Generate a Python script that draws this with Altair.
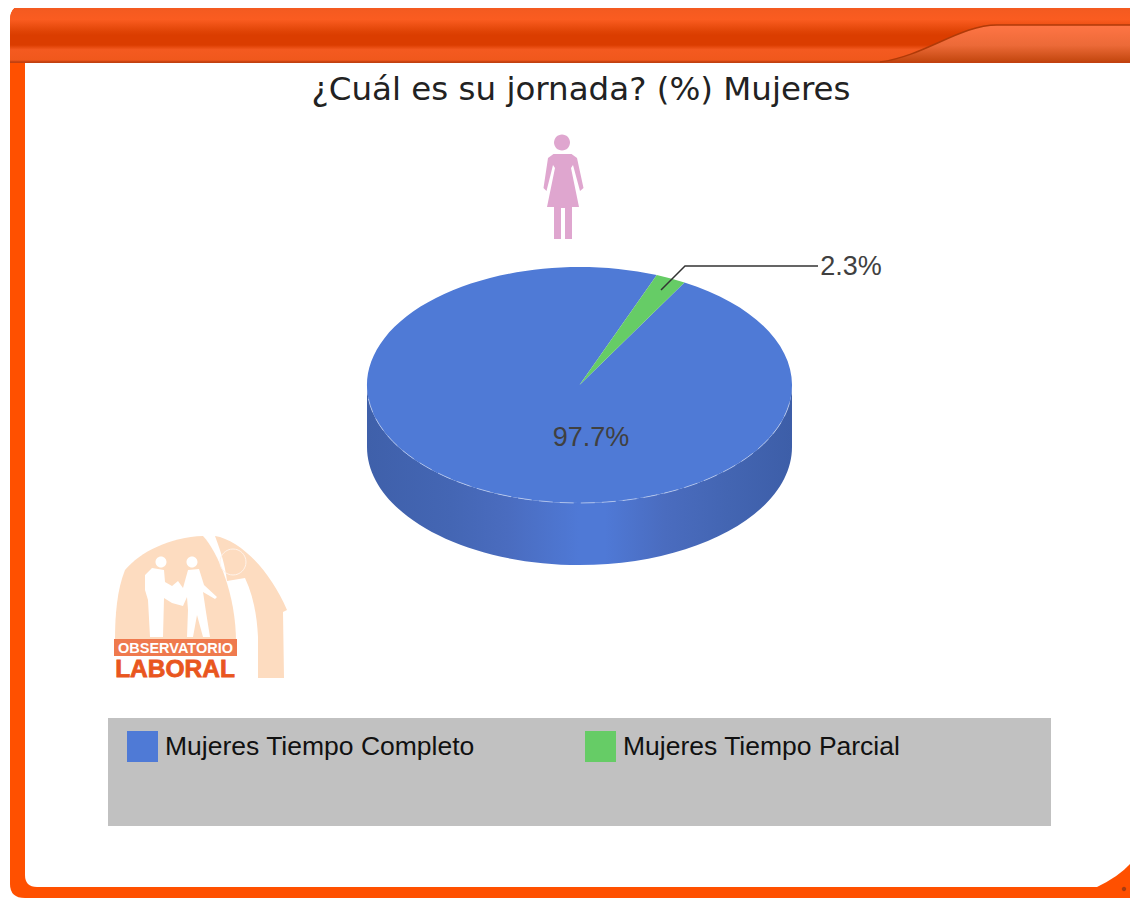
import altair as alt
import pandas as pd

categories = ["Mujeres Tiempo Completo", "Mujeres Tiempo Parcial"]
values = [97.7, 2.3]
colors = ["#4f7ad6", "#66cc66"]
title_text = "¿Cuál es su jornada? (%) Mujeres"

CX, CY, RX, RY, DEPTH = 579.5, 385, 212.5, 118, 62
START = 29.6


def grad(stops, vertical=False):
    return alt.Gradient(
        gradient="linear",
        x1=0, x2=0 if vertical else 1,
        y1=0, y2=1 if vertical else 0,
        stops=[alt.GradientStop(offset=o, color=c) for o, c in stops],
    )


blank = pd.DataFrame({"k": [0]})


def deco(path, fill=None, stroke=None, width=0, dash=None, opacity=1):
    kw = dict(shape=path, size=4, opacity=opacity, clip=False)
    if fill is not None:
        kw.update(filled=True, color=fill, strokeWidth=0)
    else:
        kw.update(filled=False, fill="transparent", stroke=stroke, strokeWidth=width)
    if dash:
        kw["strokeDash"] = dash
    return alt.Chart(blank).mark_point(**kw).encode(x=alt.value(-8), y=alt.value(-8))


def disc(x, y, r):
    return f"M{x-r},{y} A{r},{r} 0 1 1 {x+r},{y} A{r},{r} 0 1 1 {x-r},{y} Z"


frame = [
    deco("M10,20 Q10,5 25,5 L1138,5 L1138,898 L25,898 Q10,898 10,884 Z", fill="#ff5000"),
    deco("M10,20 Q10,5 25,5 L1138,5 L1138,63 L10,63 Z", fill=grad([
        (0, "#c9501e"), (0.04, "#f35a20"), (0.25, "#fa5c20"), (0.45, "#e04406"),
        (0.52, "#db3d00"), (0.69, "#db3d00"), (0.77, "#f45a20"), (0.95, "#f0581c"),
        (0.98, "#c24010"), (1, "#c24010")], vertical=True)),
    deco("M880,62 C925,56 960,25 997,25 L1138,25 L1138,62 Z", fill=grad([
        (0, "#ff7545"), (0.55, "#ec6a38"), (0.95, "#c74a12"), (1, "#c04010")], vertical=True)),
    deco("M880,62 C925,56 960,25 997,25 L1138,25", stroke="#b03a08", width=1.5),
    deco("M25,63 L1138,63 L1138,853 Q1127,873 1097,887 L37,887 Q25,887 25,875 Z", fill="#ffffff"),
    deco(disc(1124, 889, 2.2) + disc(1135, 889, 2.2) + disc(1135, 879, 2.2), fill="#a83c10"),
]

woman = [
    deco(disc(562, 142.5, 8), fill="#dfa6cf"),
    deco("M553.5,154 L571.5,154 L577,158 L583.5,188 L580,191 L573,165 L571,168 L579,207 L572,207 "
         "L572,239 L565,239 L565,208 L561,208 L561,239 L554,239 L554,207 L547,207 L555,168 "
         "L553,165 L546.5,191 L543.5,188 L548,158 Z", fill="#dfa6cf"),
]

arch = "#fddcc0"
logo = [
    deco("M115,640 C115,615 117,590 125,570 C140,552 170,537 203,536 C218,552 236,595 236,642 Z", fill=arch),
    deco("M215,536 C240,540 270,570 287,610 L283,612 L284,678 L258,678 L258,637 "
         "C257,615 253,595 245,578 L227,581 C225,565 222,555 215,536 Z", fill=arch),
    deco(disc(233, 562, 13), stroke="#fff3ea", width=1),
    deco(disc(161, 562, 5.5) + disc(192, 562, 5.5), fill="#ffffff"),
    deco("M152,568 L164,570 L165,582 L172,586 L178,581 L183,588 L188,570 L199,569 L204,585 "
         "L217,597 L215,599 L203,592 L206,612 L210,637 L203,637 L197,615 L193,637 L187,637 "
         "L188,610 L187,597 L183,606 L172,603 L164,598 L163,637 L150,637 L148,600 L145,590 L145,575 Z",
         fill="#ffffff"),
    deco("M114,639 L237,639 L237,656 L114,656 Z", fill="#ef7a4e"),
    alt.Chart(blank).mark_text(text="OBSERVATORIO", font="Liberation Sans", fontWeight="bold",
                               fontSize=14.5, color="#ffffff", align="center", baseline="alphabetic")
    .encode(x=alt.value(175.5 - 8), y=alt.value(653 - 8)),
    alt.Chart(blank).mark_text(text="LABORAL", font="Liberation Sans", fontWeight="bold",
                               fontSize=24.5, color="#e9561e", stroke="#e9561e", strokeWidth=0.8,
                               align="center", baseline="alphabetic")
    .encode(x=alt.value(175 - 8), y=alt.value(677 - 8)),
]

legend_box = deco("M108,718 L1051,718 L1051,826 L108,826 Z", fill="#c1c1c1")

side = deco(
    f"M{CX-RX},{CY} A{RX},{RY} 0 0 0 {CX+RX},{CY} L{CX+RX},{CY+DEPTH} "
    f"A{RX},{RY} 0 0 1 {CX-RX},{CY+DEPTH} Z",
    fill=grad([(0, "#3f60aa"), (0.2, "#4466b4"), (0.33, "#4a6cbf"), (0.5, "#4f79d6"),
               (0.56, "#4f79d6"), (0.7, "#4a6cbf"), (0.85, "#4365b2"), (1, "#3d5ea8")]),
)

source = pd.DataFrame({"serie": categories, "valor": values})

slices = (
    alt.Chart(source)
    .transform_window(acum="sum(valor)")
    .transform_calculate(
        a0=f"({START} + (datum.acum - datum.valor) * 3.6) * PI / 180",
        a1=f"({START} + datum.acum * 3.6) * PI / 180",
    )
    .transform_calculate(
        ruta=(
            f"'M{CX},{CY} L' + ({CX} + {RX} * sin(datum.a0)) + ',' + ({CY} - {RY} * cos(datum.a0))"
            f" + ' A{RX},{RY} 0 ' + (datum.a1 - datum.a0 > PI ? 1 : 0) + ' 1 '"
            f" + ({CX} + {RX} * sin(datum.a1)) + ',' + ({CY} - {RY} * cos(datum.a1)) + ' Z'"
        )
    )
    .mark_point(filled=True, size=4, opacity=1, strokeWidth=0)
    .encode(
        x=alt.value(-8),
        y=alt.value(-8),
        shape=alt.Shape("ruta:N", scale=None),
        color=alt.Color(
            "serie:N",
            scale=alt.Scale(domain=categories, range=colors),
            legend=alt.Legend(
                title=None, orient="none", legendX=127 - 8, legendY=731 - 8, columns=2,
                columnPadding=110, symbolType="square", symbolSize=961, symbolStrokeWidth=0,
                symbolOpacity=1, labelFont="Liberation Sans", labelFontSize=26.5,
                labelColor="#111111", labelOffset=7, labelLimit=500, padding=0,
            ),
        ),
    )
)

rim = deco(f"M{CX-211},{CY+14} A{RX},{RY} 0 0 0 {CX+211},{CY+14}",
           stroke="#c9d6f3", width=1, dash=[14, 7], opacity=0.7)

leader = deco("M661,290 L685,266 L818,266", stroke="#333333", width=1.5)

labelled = alt.Chart(source).transform_calculate(
    etiqueta="format(datum.valor, '.1f') + '%'"
)


def value_label(index, x, y):
    return (
        labelled.transform_filter(alt.datum.serie == categories[index])
        .mark_text(font="Liberation Sans", fontSize=27, color="#404040",
                   align="center", baseline="middle")
        .encode(text="etiqueta:N", x=alt.value(x - 8), y=alt.value(y - 8))
    )


layers = frame + woman + logo + [legend_box, side, slices, rim, leader,
                                 value_label(0, 591, 438), value_label(1, 851, 267)]

chart = (
    alt.layer(*layers)
    .properties(
        width=1122,
        height=891,
        padding=0,
        autosize="none",
        background="#ffffff",
        title=alt.TitleParams(
            text=title_text, font="DejaVu Sans", fontSize=32.5, fontWeight="normal",
            color="#222222", anchor="middle", dx=12, dy=131, baseline="alphabetic",
        ),
    )
    .configure_view(stroke=None)
)

chart.save("out.html", embed_options={"renderer": "svg", "actions": False})
